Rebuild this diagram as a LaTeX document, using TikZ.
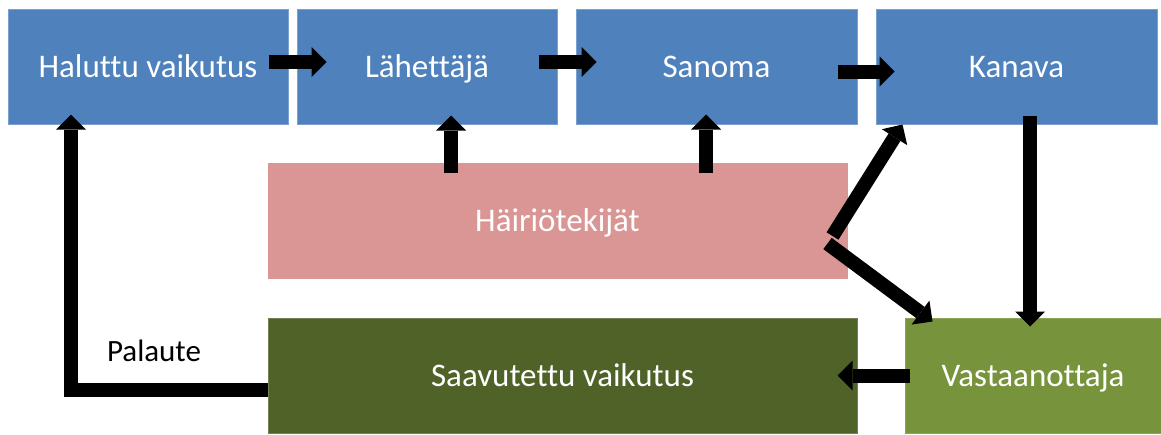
\documentclass[tikz,border=0pt]{standalone}
\usepackage{fontspec}
\setmainfont{Carlito}[Ligatures={NoCommon}]
\usetikzlibrary{arrows.meta}
\definecolor{boxblue}{HTML}{4F81BD}
\definecolor{boxpink}{HTML}{D99694}
\definecolor{boxdark}{HTML}{4F6228}
\definecolor{boxgreen}{HTML}{77933C}
\tikzset{
  box/.style={rectangle, inner sep=0pt, minimum height=115pt, text=white,
    font=\fontsize{33}{40}\selectfont, text height=21pt, text depth=0pt,
    line width=1pt},
  bluebox/.style={box, fill=boxblue, draw=boxblue!75!white},
  pinkbox/.style={box, fill=boxpink, draw=boxpink},
  darkbox/.style={box, fill=boxdark, draw=boxdark!80!white},
  greenbox/.style={box, fill=boxgreen, draw=boxgreen!85!white},
  lab/.style={inner sep=0pt, text=black, font=\fontsize{31}{36}\selectfont,
    text height=19pt, text depth=0pt},
  arr/.style={line width=14pt, draw=black,
    -{Triangle[width=30pt,length=15pt,line width=0pt]}}
}
\begin{document}
\begin{tikzpicture}[x=1pt,y=-1pt]
\useasboundingbox (0,0) rectangle (1161,434);
\node[bluebox, minimum width=280pt] (h) at (148,66.5) {Haluttu vaikutus};
\node[bluebox, minimum width=260pt] (l) at (427,66.5) {Lähettäjä};
\node[bluebox, minimum width=281pt] (s) at (716.5,66.5) {Sanoma};
\node[bluebox, minimum width=281pt] (k) at (1016.5,66.5) {Kanava};
\node[pinkbox, minimum width=579pt] (hai) at (557.5,220.5) {Häiriötekijät};
\node[darkbox, minimum width=589pt] (sv) at (562.5,375.5) {Saavutettu vaikutus};
\node[greenbox, minimum width=256pt] (v) at (1033,375.5) {Vastaanottaja};
\node[lab] (pal) at (154,352) {Palaute};
% top row arrows
\draw[arr] ([shift={(-20,-4.5)}]h.east) -- ([shift={(30,-4.5)}]l.west);
\draw[arr] ([shift={(-19,-4.5)}]l.east) -- ([shift={(21,-4.5)}]s.west);
\draw[arr] ([shift={(-20,5)}]s.east) -- ([shift={(19,5)}]k.west);
% from Häiriötekijät
\draw[arr] ([shift={(-106.5,10)}]hai.north) -- ([shift={(24,-9)}]l.south);
\draw[arr] ([shift={(148.5,10)}]hai.north) -- ([shift={(-10.5,-10)}]s.south);
\draw[arr] ([shift={(-15,15.5)}]hai.east) -- ([shift={(27,0)}]k.south west);
\draw[arr] ([shift={(-20,23)}]hai.east) -- ([shift={(28,4)}]v.north west);
% Kanava to Vastaanottaja
\draw[arr] ([shift={(13.5,-9)}]k.south) -- ([shift={(-3,9)}]v.north);
% Vastaanottaja to Saavutettu
\draw[arr] ([shift={(5,0)}]v.west) -- ([shift={(-20,0)}]sv.east);
% feedback
\draw[arr] ([shift={(0,14.5)}]sv.west) -| ([shift={(-77,-10)}]h.south);
\end{tikzpicture}
\end{document}
